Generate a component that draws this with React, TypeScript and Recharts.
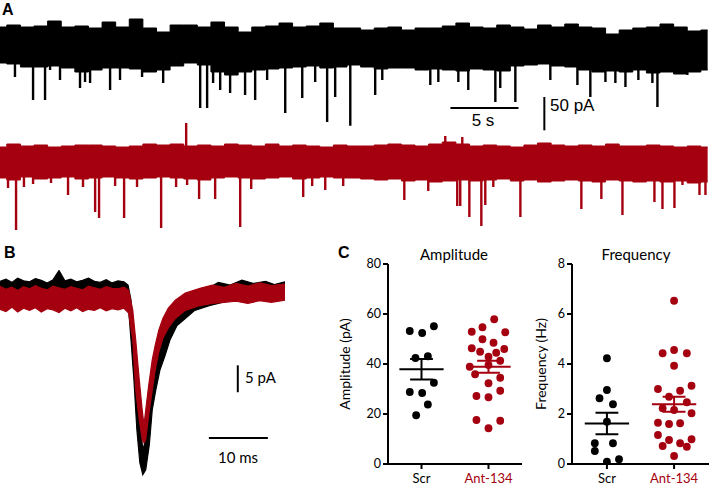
import {
  Area,
  ComposedChart,
  Line,
  ReferenceLine,
  Scatter,
  ScatterChart,
  XAxis,
  YAxis,
} from "recharts"

const BLACK = "#000000"
const RED = "#a5000f"
const SANS = "Liberation Sans, Arial, sans-serif"
const HUMAN = "Lato, 'Open Sans', sans-serif"

// ---- panel A: 52 s recordings, envelope sampled every 1 s (pA) ----
const scrTop = [30, 33, 30, 31.5, 39, 30, 31.5, 28.5, 37.5, 30, 42, 28.5, 22.5, 33, 33, 30, 37.5, 30, 22.5, 30, 31.5, 36, 30, 31.5, 36, 28.5, 28.5, 25.5, 28.5, 30, 25.5, 28.5, 28.5, 31.5, 36, 30, 28.5, 33, 30, 27, 33, 30, 34.5, 30, 28.5, 19.5, 25.5, 28.5, 30, 34.5, 30, 24, 25.5]
const scrBottom = [-24, -25.5, -30, -30, -28.5, -31.5, -37.5, -34.5, -31.5, -31.5, -33, -37.5, -34.5, -28.5, -24, -27, -37.5, -42, -37.5, -34.5, -33, -31.5, -30, -28.5, -31.5, -30, -27, -30, -33, -31.5, -31.5, -34.5, -33, -34.5, -36, -33, -34.5, -36, -28.5, -27, -25.5, -28.5, -30, -34.5, -37.5, -36, -37.5, -34.5, -39, -37.5, -40.5, -37.5, -34.5]
// [time s, peak pA]
const scrEvents = [
  [1.1, -45], [2.43, -79.5], [3.31, -79.5], [3.68, -34.5], [4.41, -49.5], [5.88, -61.5], [6.25, -52.5], [6.62, -54],
  [8.09, -64.5], [8.82, -49.5], [10.44, -45], [11.99, -54], [14.71, -91.5], [15.22, -91.5], [15.66, -54], [16.18, -64.5],
  [16.91, -69], [18.01, -72], [18.75, -79.5], [19.63, -49.5], [20.96, -99], [22.21, -76.5], [23.16, -52.5], [24.04, -112.5],
  [24.63, -75], [25.74, -118], [27.57, -72], [28.09, -49.5], [31.62, -57], [32.21, -52.5], [33.68, -52.5], [34.41, -64.5],
  [36.4, -82.5], [36.76, -61.5], [37.87, -82.5], [40.44, -49.5], [42.43, -57], [43.38, -75], [44.49, -52.5], [45.22, -54],
  [45.96, -60], [46.91, -49.5], [47.94, -54], [48.31, -90], [50.51, -42],
]

const antTop = [22.5, 27, 24, 25.5, 22.5, 24, 25.5, 25.5, 24, 22.5, 24, 27, 25.5, 27, 24, 25.5, 24, 27, 25.5, 24, 27, 24, 25.5, 24, 22.5, 25.5, 24, 24, 25.5, 27, 25.5, 24, 27, 30, 27, 24, 25.5, 24, 22.5, 25.5, 28.5, 25.5, 24, 25.5, 24, 27, 24, 24, 25.5, 24, 22.5, 24, 22.5]
const antBottom = [-24, -27, -22.5, -25.5, -24, -22.5, -25.5, -24, -22.5, -24, -25.5, -24, -22.5, -24, -25.5, -27, -24, -22.5, -24, -25.5, -24, -22.5, -25.5, -24, -22.5, -24, -24, -25.5, -27, -25.5, -28.5, -27, -30, -28.5, -27, -28.5, -27, -25.5, -28.5, -27, -30, -28.5, -27, -28.5, -30, -27, -28.5, -30, -28.5, -30, -28.5, -31.5, -30]
const antEvents = [
  [0.59, -39], [1.18, -102], [1.76, -37.5], [2.43, -33], [3.75, -31.5], [5.0, -49.5], [6.1, -37.5], [6.99, -75],
  [7.28, -84], [8.46, -36], [9.12, -84], [10.07, -37.5], [11.84, -99], [12.94, -37.5], [13.68, 58.5], [13.75, -34.5],
  [14.63, -55.5], [15.81, -55.5], [17.65, -97.5], [18.46, -40.5], [22.28, -52.5], [22.94, -36], [23.9, -42], [25.22, -36],
  [29.71, -57], [31.47, -43.5], [32.72, 39], [33.6, -66], [33.82, -66], [33.97, 37.5], [34.49, -82.5], [35.37, -96],
  [35.66, -64.5], [36.25, -37.5], [38.24, -82.5], [42.72, -70.5], [44.19, -55.5], [45.74, -79.5], [48.09, -60],
  [48.68, -70.5], [49.56, -69], [50.15, -34.5], [51.4, -49.5], [51.84, -49.5],
]

// ---- panel B: averaged events [time ms, upper pA, lower pA] ----
const scrAverage = [
  [0, 1.3, -1.5], [1, 1.7, -1.4], [2, 1.1, -1.6], [3, 1.9, -1.3], [4, 1.4, -1.5], [5, 1.2, -1.7], [6, 1.8, -1.4],
  [7, 1.5, -1.2], [8, 1.0, -1.5], [9, 1.6, -1.6], [10, 3.3, -1.3], [11, 1.4, -1.5], [12, 1.7, -1.4], [13, 1.2, -1.6],
  [14, 1.5, -1.5], [15, 1.9, -1.3], [16, 1.3, -1.6], [17, 1.1, -1.4], [18, 1.6, -1.7], [19, 1.0, -1.5], [20, 1.4, -1.6],
  [21, 1.2, -1.8], [21.7, 0.6, -2.5], [22.2, -2.2, -9.6], [22.7, -7.8, -17.0], [23.2, -17.0, -26.3], [23.7, -24.4, -32.4],
  [24.2, -30.0, -34.6], [24.7, -28.1, -33.7], [25.3, -22.6, -29.1], [25.8, -17.0, -22.6], [26.4, -13.3, -18.9],
  [27.1, -10.6, -15.2], [28.0, -7.8, -12.4], [28.8, -5.6, -9.6], [30.0, -3.2, -6.9], [31.4, -1.9, -5.6], [33.0, -0.7, -4.1],
  [35.6, 0.2, -3.2], [37, 1.1, -2.8], [39, 0.6, -2.2], [41, 1.5, -2.0], [43, 0.9, -1.9], [45, 1.3, -1.8], [46.5, 0.7, -2.0],
  [48.3, 1.2, -1.7],
]
const antAverage = [
  [0, 0.4, -3.9], [1, -0.2, -4.3], [2, 0.2, -3.5], [3, -0.4, -4.4], [4, 0.3, -3.7], [5, -0.1, -4.1], [6, 0.5, -3.6],
  [7, 0.0, -4.4], [8, -0.3, -3.8], [9, 0.4, -4.0], [10, 0.1, -4.5], [11, -0.2, -3.7], [12, 0.3, -4.2], [13, 0.0, -3.6],
  [14, -0.3, -4.3], [15, 0.4, -3.9], [16, 0.1, -4.1], [17, -0.2, -3.6], [18, 0.3, -4.2], [19, 0.0, -3.8], [20, -0.1, -4.0],
  [21, 0.2, -3.7], [21.8, -0.4, -4.6], [22.5, -4.1, -9.6], [23.0, -9.6, -18.9], [23.6, -17.0, -24.4], [24.1, -22.6, -28.1],
  [24.4, -25.4, -28.7], [24.7, -22.6, -28.1], [25.2, -18.0, -23.5], [25.8, -13.3, -18.9], [26.3, -10.6, -15.2],
  [26.9, -7.8, -11.9], [27.6, -5.6, -9.3], [28.5, -3.7, -7.4], [29.7, -2.2, -5.6], [31.4, -0.9, -4.1], [33.9, 0.0, -3.2],
  [36, 0.6, -2.8], [38, 0.2, -2.6], [40, 0.9, -2.4], [42, 0.4, -2.8], [44, 1.0, -2.3], [46, 0.5, -2.6], [48.3, 0.8, -2.2],
]

// ---- panel C: per-cell values ----
const groups = ["Scr", "Ant-134"]
const scrAmp = [53.2, 52.4, 55.1, 42.4, 43.1, 32.5, 28.8, 28.4, 23.8, 19.5]
const scrAmpJitter = [-0.175, 0.01, 0.185, -0.09, 0.095, 0.185, -0.175, 0.01, 0.095, -0.08]
const antAmp = [57.9, 52.9, 54.7, 52.7, 49.9, 48.5, 46.3, 44.9, 44.5, 46.0, 42.9, 41.3, 38.9, 39.6, 35.9, 34.5, 32.3, 27.2, 26.7, 29.3, 17.6, 17.3, 14.3]
const antAmpJitter = [0.085, -0.25, -0.09, 0.25, -0.09, 0.075, -0.25, -0.125, 0.115, 0.235, 0, 0.175, -0.28, 0, -0.2, 0.175, 0, -0.18, 0, 0.175, -0.18, 0.175, 0]
const scrFreq = [4.23, 2.96, 2.63, 2.39, 1.69, 0.83, 0.83, 0.52, 0.09, 0.19]
const scrFreqJitter = [0, 0, -0.11, 0.09, 0, -0.18, 0.09, -0.18, 0, 0.18]
const antFreq = [6.53, 4.43, 4.56, 4.43, 3.93, 3.0, 2.93, 3.13, 2.69, 2.47, 2.23, 2.16, 2.03, 1.65, 1.6, 1.63, 1.16, 0.96, 0.99, 0.72, 0.83, 0.69, 0.32]
const antFreqJitter = [0, -0.17, 0, 0.19, 0, -0.24, 0.09, 0.26, -0.075, 0.19, -0.17, 0, 0.26, -0.24, -0.075, 0.09, -0.24, -0.075, 0.26, -0.17, 0.09, 0.19, 0]
const ampMean = [37.9, 38.9]
const ampSem = [4.1, 2.4]
const freqMean = [1.62, 2.39]
const freqSem = [0.43, 0.3]

const band = (top: number[], bottom: number[]) =>
  top.map((hi, i) => ({ t: i, range: [bottom[i], hi] }))
const eventLine = (events: number[][]) =>
  events.flatMap(([t, v]) => [
    { t, v: 0 },
    { t, v },
    { t, v: 0 },
  ])
const avgBand = (rows: number[][]) => rows.map(([t, hi, lo]) => ({ t, range: [lo, hi] }))
const dots = (values: number[], jitter: number[], group: number) =>
  values.map((y, i) => ({ x: group + jitter[i], y }))

function Trace({ top, bottom, events, color, domain, bars }: any) {
  return (
    <ComposedChart width={709} height={120} margin={{ top: 0, right: 0, bottom: 0, left: 0 }}>
      <XAxis type="number" dataKey="t" domain={[0, 52.1]} hide allowDataOverflow />
      <YAxis type="number" domain={domain} hide allowDataOverflow />
      <Area
        data={band(top, bottom)}
        dataKey="range"
        type="step"
        stroke={color}
        strokeWidth={1}
        fill={color}
        fillOpacity={1}
        isAnimationActive={false}
      />
      <Line
        data={eventLine(events)}
        dataKey="v"
        type="linear"
        stroke={color}
        strokeWidth={2.4}
        dot={false}
        isAnimationActive={false}
      />
      {bars && (
        <ReferenceLine
          segment={[{ x: 33.1, y: -91.5 }, { x: 38.1, y: -91.5 }]}
          stroke={BLACK}
          strokeWidth={2}
          ifOverflow="visible"
        />
      )}
      {bars && (
        <ReferenceLine
          segment={[{ x: 40.0, y: -75 }, { x: 40.0, y: -125 }]}
          stroke={BLACK}
          strokeWidth={2}
          ifOverflow="visible"
        />
      )}
    </ComposedChart>
  )
}

function GroupTick({ x, y, payload }: any) {
  return (
    <text
      x={x}
      y={y + 12}
      textAnchor="middle"
      fontSize={13}
      fontFamily={HUMAN}
      fill={payload.value === 0 ? BLACK : RED}
    >
      {groups[payload.value]}
    </text>
  )
}

function DotPlot({ scr, scrJ, ant, antJ, mean, sem, yMax, yTicks, xDomain, width, marginLeft }: any) {
  const dot = (color: string) => (p: any) => <circle cx={p.cx} cy={p.cy} r={3.9} fill={color} />
  return (
    <ScatterChart
      width={width}
      height={243}
      margin={{ top: 19, right: width === 200 ? 8 : 0, bottom: 4, left: marginLeft }}
    >
      <XAxis
        type="number"
        dataKey="x"
        domain={xDomain}
        ticks={[0, 1]}
        tick={<GroupTick />}
        height={20}
        axisLine={{ stroke: BLACK, strokeWidth: 2 }}
        tickLine={{ stroke: BLACK, strokeWidth: 2 }}
        tickSize={5}
        allowDataOverflow
      />
      <YAxis
        type="number"
        dataKey="y"
        domain={[0, yMax]}
        ticks={yTicks}
        width={30}
        axisLine={{ stroke: BLACK, strokeWidth: 2 }}
        tickLine={{ stroke: BLACK, strokeWidth: 2 }}
        tickSize={5}
        tick={{ fill: BLACK, fontSize: 12.5, fontFamily: HUMAN }}
        allowDataOverflow
      />
      <Scatter data={dots(scr, scrJ, 0)} shape={dot(BLACK)} isAnimationActive={false} />
      <Scatter data={dots(ant, antJ, 1)} shape={dot(RED)} isAnimationActive={false} />
      {[0, 1].map((g) => {
        const c = g === 0 ? BLACK : RED
        return [
          <ReferenceLine key={`m${g}`} segment={[{ x: g - 0.33, y: mean[g] }, { x: g + 0.33, y: mean[g] }]} stroke={c} strokeWidth={2} />,
          <ReferenceLine key={`v${g}`} segment={[{ x: g, y: mean[g] - sem[g] }, { x: g, y: mean[g] + sem[g] }]} stroke={c} strokeWidth={2} />,
          <ReferenceLine key={`u${g}`} segment={[{ x: g - 0.17, y: mean[g] + sem[g] }, { x: g + 0.17, y: mean[g] + sem[g] }]} stroke={c} strokeWidth={2} />,
          <ReferenceLine key={`d${g}`} segment={[{ x: g - 0.17, y: mean[g] - sem[g] }, { x: g + 0.17, y: mean[g] - sem[g] }]} stroke={c} strokeWidth={2} />,
        ]
      })}
    </ScatterChart>
  )
}

export default function App() {
  return (
    <div
      style={{
        position: "absolute",
        left: 0,
        top: 0,
        width: 709,
        height: 488,
        background: "#fff",
        fontFamily: HUMAN,
        overflow: "hidden",
      }}
    >
      <div style={{ position: "absolute", left: 0, top: 15 }}>
        <Trace top={scrTop} bottom={scrBottom} events={scrEvents} color={BLACK} domain={[-132, 48]} bars />
      </div>
      <div style={{ position: "absolute", left: 0, top: 120 }}>
        <Trace top={antTop} bottom={antBottom} events={antEvents} color={RED} domain={[-117, 63]} />
      </div>

      <div style={{ position: "absolute", left: 0, top: 270 }}>
        <ComposedChart width={285} height={210} margin={{ top: 0, right: 0, bottom: 0, left: 0 }}>
          <XAxis type="number" dataKey="t" domain={[0, 48.3]} hide allowDataOverflow />
          <YAxis type="number" domain={[-35.6, 3.4]} hide allowDataOverflow />
          <Area data={avgBand(scrAverage)} dataKey="range" type="linear" stroke={BLACK} strokeWidth={1.2} fill={BLACK} fillOpacity={1} isAnimationActive={false} />
          <Area data={avgBand(antAverage)} dataKey="range" type="linear" stroke={RED} strokeWidth={1.2} fill={RED} fillOpacity={1} isAnimationActive={false} />
          <ReferenceLine segment={[{ x: 40.3, y: -14.3 }, { x: 40.3, y: -19.3 }]} stroke={BLACK} strokeWidth={2} ifOverflow="visible" />
          <ReferenceLine segment={[{ x: 35.4, y: -27.8 }, { x: 45.4, y: -27.8 }]} stroke={BLACK} strokeWidth={2} ifOverflow="visible" />
        </ComposedChart>
      </div>

      <div style={{ position: "absolute", left: 330, top: 245 }}>
        <DotPlot scr={scrAmp} scrJ={scrAmpJitter} ant={antAmp} antJ={antAmpJitter} mean={ampMean} sem={ampSem}
          yMax={80} yTicks={[0, 20, 40, 60, 80]} xDomain={[-0.5, 1.5]} width={200} marginLeft={28} />
      </div>
      <div style={{ position: "absolute", left: 520, top: 245 }}>
        <DotPlot scr={scrFreq} scrJ={scrFreqJitter} ant={antFreq} antJ={antFreqJitter} mean={freqMean} sem={freqSem}
          yMax={8} yTicks={[0, 2, 4, 6, 8]} xDomain={[-0.52, 1.52]} width={189} marginLeft={22} />
      </div>

      <svg width={709} height={488} style={{ position: "absolute", left: 0, top: 0, pointerEvents: "none" }}>
        <text x={2} y={15} fontFamily={SANS} fontWeight="bold" fontSize={16}>A</text>
        <text x={483} y={126} fontFamily={SANS} fontSize={17} textAnchor="middle">5 s</text>
        <text x={550} y={111} fontFamily={SANS} fontSize={17}>50 pA</text>
        <text x={4} y={258} fontFamily={SANS} fontWeight="bold" fontSize={16}>B</text>
        <text x={245} y={383} fontFamily={HUMAN} fontSize={15}>5 pA</text>
        <text x={238} y={463} fontFamily={HUMAN} fontSize={15} textAnchor="middle">10 ms</text>
        <text x={338} y={258} fontFamily={SANS} fontWeight="bold" fontSize={16}>C</text>
        <text x={454} y={260} fontFamily={HUMAN} fontSize={15} textAnchor="middle">Amplitude</text>
        <text x={636} y={260} fontFamily={HUMAN} fontSize={15} textAnchor="middle">Frequency</text>
        <text transform="translate(350 364) rotate(-90)" fontFamily={HUMAN} fontSize={14} textAnchor="middle">Amplitude (pA)</text>
        <text transform="translate(546 364) rotate(-90)" fontFamily={HUMAN} fontSize={14} textAnchor="middle">Frequency (Hz)</text>
      </svg>
    </div>
  )
}
